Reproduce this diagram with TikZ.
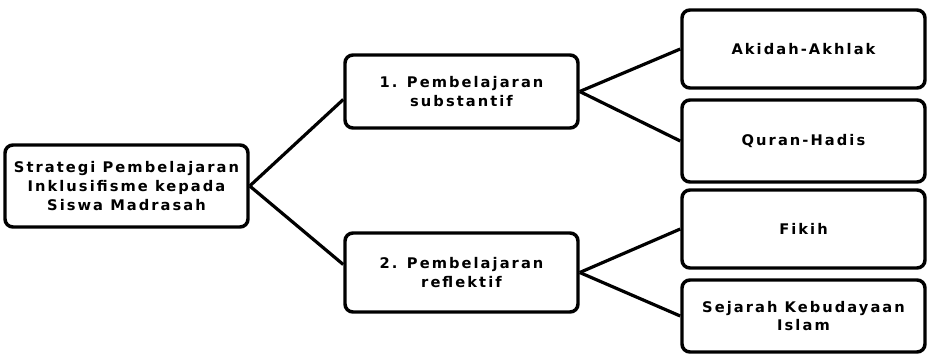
\documentclass[tikz,border=0pt]{standalone}
\usepackage{fontspec}
\setmainfont{DejaVu Sans}[LetterSpace=14]
\begin{document}
\begin{tikzpicture}[x=0.75pt,y=-0.75pt,
  box/.style={draw=black, line width=2.6pt, rounded corners=6pt, fill=white, align=center, inner sep=0pt,
    font=\fontsize{11}{14}\selectfont\bfseries},
  conn/.style={line width=2.4pt}]
\useasboundingbox (0,0) rectangle (928,354);
\node[box, minimum width=182.25pt, minimum height=61.5pt] (root) at (126.5,186) {Strategi Pembelajaran\\Inklusifisme kepada\\Siswa Madrasah};
\node[box, minimum width=174.75pt, minimum height=54.75pt] (n1) at (461.5,91.5) {1. Pembelajaran\\substantif};
\node[box, minimum width=174.75pt, minimum height=59.25pt] (n2) at (461.5,272.5) {2. Pembelajaran\\reflektif};
\node[box, minimum width=182.25pt, minimum height=58.5pt] (a) at (803.5,49) {Akidah-Akhlak};
\node[box, minimum width=182.25pt, minimum height=61.5pt] (q) at (803.5,141) {Quran-Hadis};
\node[box, minimum width=182.25pt, minimum height=58.5pt] (f) at (803.5,229) {Fikih};
\node[box, minimum width=182.25pt, minimum height=54pt] (s) at (803.5,316) {Sejarah Kebudayaan\\Islam};
\draw[conn] (root.east) -- ([yshift=-6pt]n1.west);
\draw[conn] (root.east) -- ([yshift=6pt]n2.west);
\draw[conn] (n1.east) -- (a.west);
\draw[conn] (n1.east) -- (q.west);
\draw[conn] (n2.east) -- (f.west);
\draw[conn] (n2.east) -- (s.west);
\end{tikzpicture}
\end{document}
